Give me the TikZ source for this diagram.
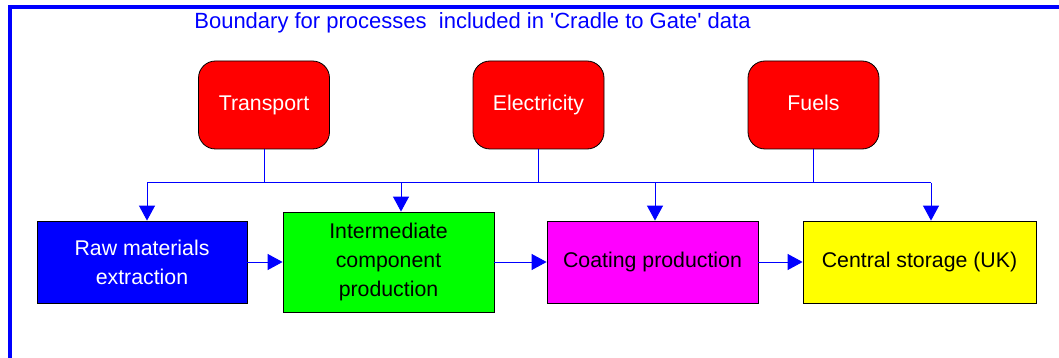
\documentclass[tikz,border=0pt]{standalone}
\usepackage{fontspec}
\setmainfont{Liberation Sans}
\usetikzlibrary{arrows.meta}
\definecolor{pureblue}{RGB}{0,0,255}
\definecolor{purered}{RGB}{255,0,0}
\definecolor{puregreen}{RGB}{0,255,0}
\definecolor{puremagenta}{RGB}{255,0,255}
\definecolor{pureyellow}{RGB}{255,255,0}
\tikzset{
  proc/.style={draw=black,line width=0.8pt,minimum height=82pt,align=center,inner sep=0pt,font=\fontsize{21.3}{29}\selectfont},
  supply/.style={proc,fill=purered,text=white,rounded corners=17pt,minimum width=131pt,minimum height=88pt,text height=15pt,text depth=4pt},
  feed/.style={pureblue,line width=1pt},
  arr/.style={feed,-{Triangle[length=15pt,width=16pt]}}
}
\begin{document}
\begin{tikzpicture}[x=1pt,y=-1pt]
  \useasboundingbox (0,0) rectangle (1059,358);
  \clip (0,0) rectangle (1059,358);
  \draw[pureblue,line width=4pt] (9.5,400) |- (1100,7);
  \node[pureblue,font=\fontsize{22}{26}\selectfont] (title) at (472.5,23)
    {Boundary for processes\ \ included in \textquotesingle Cradle to Gate\textquotesingle\ data};

  \node[supply] (trans) at (264,105) {Transport};
  \node[supply] (elec) at (538.5,105) {Electricity};
  \node[supply] (fuel) at (813.5,105) {Fuels};

  \node[proc,fill=pureblue,text=white,minimum width=210pt] (raw) at (142,262) {Raw materials\\extraction};
  \node[proc,fill=puregreen,minimum width=211pt,minimum height=100pt] (inter) at (388.5,262) {Intermediate\\component\\production};
  \node[proc,fill=puremagenta,minimum width=211pt] (coat) at (652.5,262) {Coating production};
  \node[proc,fill=pureyellow,minimum width=233pt] (store) at (919.5,262) {Central storage (UK)};

  \foreach \x/\n in {147/raw,401/inter,655/coat,931/store} {
    \coordinate (b\n) at (\x,183);
    \draw[arr] (b\n) -- (b\n |- \n.north);
  }
  \draw[feed] (braw) -- (bstore);
  \foreach \s in {trans,elec,fuel}
    \draw[feed] (\s.south) -- (\s.south |- braw);

  \draw[arr] (raw) -- (inter);
  \draw[arr] (inter) -- (coat);
  \draw[arr] (coat) -- (store);
\end{tikzpicture}
\end{document}
